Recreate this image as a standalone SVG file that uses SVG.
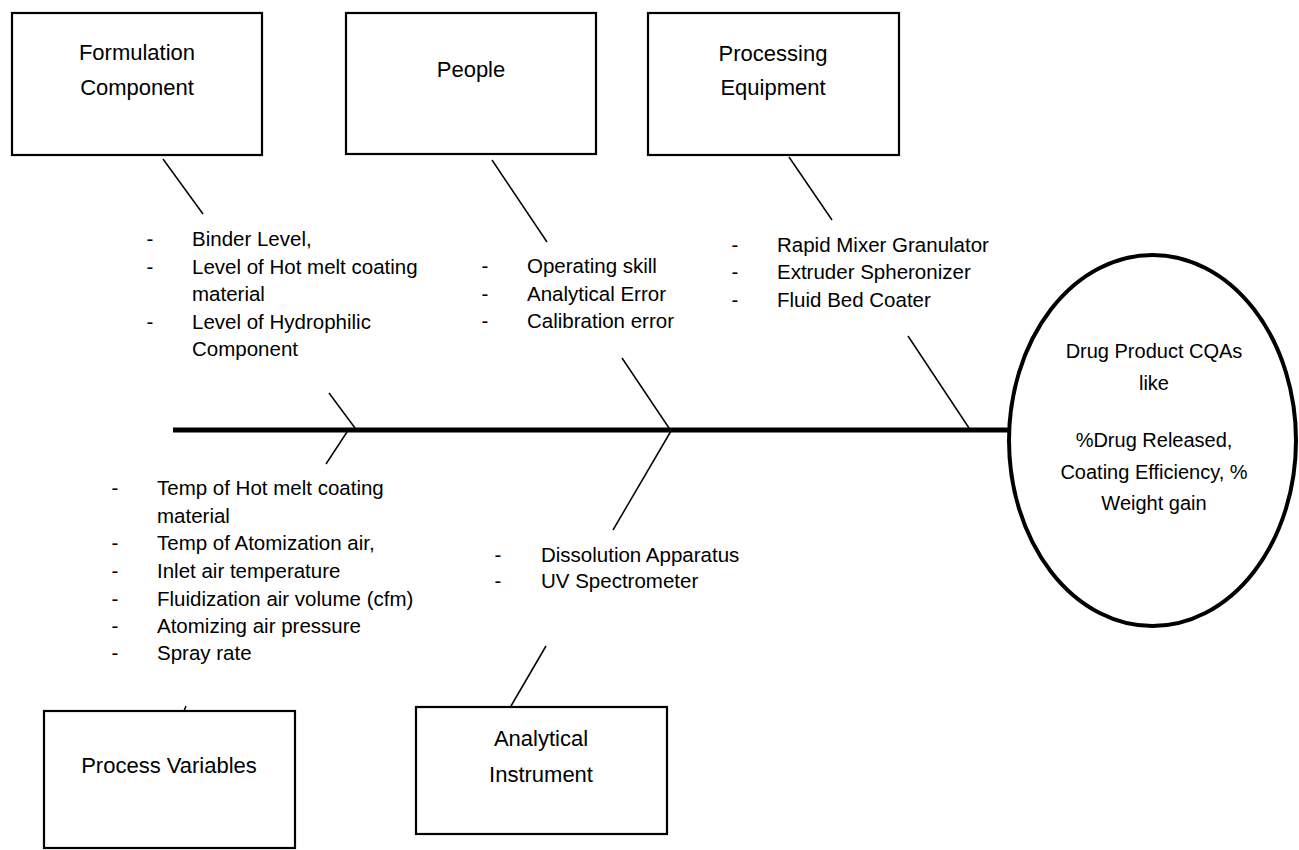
<svg xmlns="http://www.w3.org/2000/svg" width="1299" height="850" viewBox="0 0 1299 850">
<style>
text{font-family:"Liberation Sans",Arial,sans-serif;fill:#000}
.box{fill:#fff;stroke:#000;stroke-width:2.2}
.lbl{font-size:22px;text-anchor:middle}
.li{font-size:20.5px}
.dash{font-size:20.5px;text-anchor:middle}
.el{font-size:20px;text-anchor:middle}
.bone{stroke:#000;stroke-width:1.5;fill:none}
.spine{stroke:#000;stroke-width:5;fill:none}
</style>
<rect width="1299" height="850" fill="#fff"/>
<g id="connectors">
<line class="spine" x1="173" y1="430" x2="1008" y2="430"/>
<line class="bone" x1="163" y1="159" x2="203" y2="214"/>
<line class="bone" x1="329" y1="393" x2="355" y2="428"/>
<line class="bone" x1="347" y1="432" x2="326" y2="464"/>
<line class="bone" x1="186" y1="706" x2="184" y2="711"/>
<line class="bone" x1="492" y1="160" x2="547" y2="242"/>
<line class="bone" x1="622" y1="358" x2="669" y2="428"/>
<line class="bone" x1="671" y1="431" x2="613" y2="530"/>
<line class="bone" x1="546" y1="646" x2="511" y2="706"/>
<line class="bone" x1="789" y1="157" x2="832" y2="220"/>
<line class="bone" x1="908" y1="336" x2="969" y2="428"/>
</g>
<g id="formulation-component">
<rect class="box" x="12" y="13" width="250" height="142"/>
<text class="lbl" x="137" y="60">Formulation</text>
<text class="lbl" x="137" y="95">Component</text>
</g>
<g id="people">
<rect class="box" x="346" y="13" width="250" height="141"/>
<text class="lbl" x="471" y="77">People</text>
</g>
<g id="processing-equipment">
<rect class="box" x="648" y="13" width="251" height="142"/>
<text class="lbl" x="773" y="61">Processing</text>
<text class="lbl" x="773" y="95">Equipment</text>
</g>
<g id="process-variables">
<rect class="box" x="44" y="711" width="251" height="137"/>
<text class="lbl" x="169" y="773">Process Variables</text>
</g>
<g id="analytical-instrument">
<rect class="box" x="416" y="707" width="251" height="127"/>
<text class="lbl" x="541" y="746">Analytical</text>
<text class="lbl" x="541" y="782">Instrument</text>
</g>
<g id="drug-product-cqas">
<ellipse cx="1152.5" cy="440.5" rx="143.5" ry="185.5" fill="#fff" stroke="#000" stroke-width="4"/>
<text class="el" x="1154" y="358">Drug Product CQAs</text>
<text class="el" x="1154" y="390">like</text>
<text class="el" x="1154" y="447">%Drug Released,</text>
<text class="el" x="1154" y="479">Coating Efficiency, %</text>
<text class="el" x="1154" y="510">Weight gain</text>
</g>
<g id="formulation-causes">
<text class="dash" x="150" y="246">-</text>
<text class="li" x="192" y="246">Binder Level,</text>
<text class="dash" x="150" y="274">-</text>
<text class="li" x="192" y="274">Level of Hot melt coating</text>
<text class="li" x="192" y="301">material</text>
<text class="dash" x="150" y="329">-</text>
<text class="li" x="192" y="329">Level of Hydrophilic</text>
<text class="li" x="192" y="356">Component</text>
</g>
<g id="people-causes">
<text class="dash" x="485" y="273">-</text>
<text class="li" x="527" y="273">Operating skill</text>
<text class="dash" x="485" y="301">-</text>
<text class="li" x="527" y="301">Analytical Error</text>
<text class="dash" x="485" y="328">-</text>
<text class="li" x="527" y="328">Calibration error</text>
</g>
<g id="equipment-causes">
<text class="dash" x="735" y="252">-</text>
<text class="li" x="777" y="252">Rapid Mixer Granulator</text>
<text class="dash" x="735" y="279">-</text>
<text class="li" x="777" y="279">Extruder Spheronizer</text>
<text class="dash" x="735" y="307">-</text>
<text class="li" x="777" y="307">Fluid Bed Coater</text>
</g>
<g id="process-causes">
<text class="dash" x="115" y="495">-</text>
<text class="li" x="157" y="495">Temp of Hot melt coating</text>
<text class="li" x="157" y="523">material</text>
<text class="dash" x="115" y="550">-</text>
<text class="li" x="157" y="550">Temp of Atomization air,</text>
<text class="dash" x="115" y="578">-</text>
<text class="li" x="157" y="578">Inlet air temperature</text>
<text class="dash" x="115" y="606">-</text>
<text class="li" x="157" y="606">Fluidization air volume (cfm)</text>
<text class="dash" x="115" y="633">-</text>
<text class="li" x="157" y="633">Atomizing air pressure</text>
<text class="dash" x="115" y="660">-</text>
<text class="li" x="157" y="660">Spray rate</text>
</g>
<g id="instrument-causes">
<text class="dash" x="498" y="562">-</text>
<text class="li" x="541" y="562">Dissolution Apparatus</text>
<text class="dash" x="498" y="588">-</text>
<text class="li" x="541" y="588">UV Spectrometer</text>
</g>
</svg>
